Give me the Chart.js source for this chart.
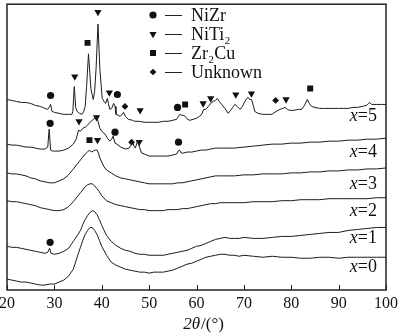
<!DOCTYPE html>
<html><head><meta charset="utf-8">
<script src="https://cdn.jsdelivr.net/npm/chart.js@4/dist/chart.umd.min.js"></script>
<style>html,body{margin:0;padding:0;background:#fff}canvas{display:block}</style>
</head><body>
<canvas id="c" width="400" height="335"></canvas>
<script>
// ---- data (2θ in degrees, intensity in arbitrary offset units) ----
const xTicks = [20, 30, 40, 50, 60, 70, 80, 90, 100];
const seriesNames = ['x=0', 'x=1', 'x=2', 'x=3', 'x=4', 'x=5'];

const theta0 = [20,21,22,23,24,25,26,27,28,29,30,31,32,33,34,35,35.5,36,36.5,37,37.5,38,38.5,39,39.5,40,41,42,43,44,45,46,47,48,49,50,51,52,53,54,55,56,57,58,59,60,61,62,63,64,65,66,67,68,69,70,72,74,76,78,80,82,84,86,88,90,92,94,96,98,100];
const int0   = [11,10,9,8,8,7,6,5,5,6,6,8,10,14,21,36,43,50,56,60,63,63,60,56,50,44,35,28,25,23,21,20,19,18,18,17,18,18,18,19,20,22,24,26,27,29,31,33,34,35,36,36,35,35,34,35,34,33,34,33,33,32,32,33,33,32,33,33,33,33,33];

const theta1 = [20,21,22,23,24,25,26,27,28,28.6,29,29.3,30,31,32,33,34,35,35.5,36,36.5,37,37.5,38,38.5,39,39.5,40,41,42,43,44,45,46,47,48,49,50,51,52,53,54,55,56,57,58,59,60,61,62,63,64,65,66,67,68,69,70,72,74,76,78,80,82,84,86,88,90,92,94,96,98,100];
const int1   = [44,43,43,42,41,40,39,38,37,38,42,37,36,37,39,42,49,56,60,66,71,75,78,80,79,76,71,65,55,49,45,42,40,39,37,36,36,35,35,35,35,36,37,38,39,40,42,44,45,47,49,51,52,53,52,52,52,53,52,52,53,54,54,55,56,57,58,58,60,61,62,63,63];

const theta2 = [20,21,22,23,24,25,26,27,28,29,30,31,32,33,34,35,35.5,36,36.5,37,37.5,38,38.5,39,39.5,40,41,42,43,44,45,46,47,48,49,50,51,52,53,54,55,56,57,58,59,60,61,62,63,64,65,66,67,68,70,72,74,76,78,80,82,84,86,88,90,92,94,96,98,100];
const int2   = [90,89,89,88,87,86,85,83,82,81,80,80,81,84,89,95,98,101,104,106,107,107,105,102,99,95,90,88,86,85,84,83,82,81,81,80,80,80,80,81,81,81,82,82,83,84,85,86,87,87,88,88,88,88,88,89,89,89,90,90,91,91,91,92,92,92,92,92,93,93];

const theta3 = [20,21,22,23,24,25,26,27,28,29,30,31,32,33,34,35,35.5,36,36.5,37,37.4,37.8,38.2,38.6,39,39.3,39.6,40,40.5,41,42,43,44,45,46,47,48,49,50,51,52,53,54,55,56,57,58,59,60,61,62,63,64,65,66,68,70,72,74,76,78,80,82,84,86,88,90,92,94,96,98,100];
const int3   = [118,117,117,116,115,113,112,110,109,108,108,110,112,116,122,128,131,134,137,139,141,139,140,141,141,138,133,129,124,121,118,115,113,112,111,110,109,108,107,107,107,107,107,107,108,108,109,110,111,112,113,114,115,115,115,115,116,116,117,117,117,118,118,119,119,120,120,121,121,122,122,123];

const theta4 = [20,21,22,23,24,25,26,27,28,28.6,28.9,29.2,29.6,30,31,32,33,34,34.6,35.1,35.5,36,36.5,37,37.5,38,38.5,38.9,39.2,39.6,40,40.7,41.2,41.7,42.1,42.4,42.8,43.2,44,45,45.8,46.2,46.5,46.8,47.1,47.6,47.9,48.4,49,50,51,52,53,54,55,55.8,56.1,56.4,56.8,57.2,58,59,60,61,62,63,64,65,66,68,70,72,74,76,78,80,82,84,86,88,90,92,94,96,98,100];
const int4   = [147,146,146,145,144,144,143,142,142,144,162,141,140,140,140,141,143,147,152,161,160,163,164,166,169,171,173,176,170,163,160,157,153,150,152,155,148,147,144,142,143,146,150,145,143,151,145,138,137,135,135,135,135,135,136,137,140,141,138,138,139,139,140,141,141,142,143,143,143,143,144,145,146,147,147,148,148,149,149,150,150,151,151,152,152,153];

const theta5 = [20,21,22,23,24,25,26,27,28,28.6,28.9,29.2,29.5,30,31,32,33,33.7,33.9,34.2,34.5,34.8,35.3,35.8,36.2,36.5,36.8,37.2,37.5,37.7,38.2,38.5,38.8,39.2,39.6,39.9,40.1,40.5,40.8,41.2,41.4,41.7,42.1,42.5,42.8,43,43.5,43.9,44.3,44.6,45,45.6,46.5,47,48,49,50,51,52,53,54,55,55.8,56.2,56.5,56.9,57.3,57.6,58.1,58.6,59.3,60,60.6,61.1,61.5,62,62.5,63,63.5,64,64.4,64.8,65.3,66,66.7,67.2,67.8,68.1,68.6,69.2,69.7,70.2,70.6,70.9,71.2,71.6,72,72.3,73,74,75,75.9,76.8,77.6,78.2,78.7,79.2,79.7,80.5,81.5,82.2,82.8,83.4,83.8,84.3,85,86,87,88,89,90,91,92,93,94,95,95.9,96.5,97,98,99,100];
const int5   = [192,191,190,189,189,188,186,185,183,182,184,187,180,179,178,177,177,177,180,205,184,180,178,177,180,185,205,238,218,203,192,200,223,268,223,205,193,190,188,193,188,182,183,188,185,177,176,175,177,179,175,172,171,170,170,169,169,169,169,170,170,171,172,175,177,176,176,175,172,171,172,173,175,177,182,182,185,188,190,191,193,190,187,183,178,181,185,187,185,182,185,190,193,194,192,192,186,180,178,177,177,177,180,182,183,184,182,181,181,182,182,186,192,188,185,184,183,183,183,183,183,183,183,184,184,185,186,189,187,187,187,187];

// phase markers [2θ, intensity]
const nizrTheta = [29.2, 43.3, 56.0, 29.1, 42.8, 56.2, 29.1];
const nizrInt   = [196, 197, 184, 168, 159, 149, 48];
const niti2Theta = [34.3, 39.2, 41.6, 48.1, 61.4, 63.0, 68.3, 71.6, 78.9, 35.2, 38.9, 47.9, 39.1];
const niti2Int   = [215, 280, 199, 181, 188, 193, 197, 198, 192, 170, 174, 149, 151];
const zr2cuTheta = [37.0, 57.6, 84.0, 37.4];
const zr2cuInt   = [249, 187, 203, 151];
const unkTheta = [44.9, 76.7, 46.3];
const unkInt   = [185, 191, 149];

const legendNames = ['NiZr', 'NiTi\u2082', 'Zr\u2082Cu', 'Unknown'];
const labelTheta = 98.1;
const labelInt = [23, 52, 79, 107, 139, 175];

// ---- build datasets ----
const zip = (a, b) => a.map((v, i) => ({x: v, y: b[i]}));
const thetas = [theta0, theta1, theta2, theta3, theta4, theta5];
const ints = [int0, int1, int2, int3, int4, int5];
const INK = '#1c1c1c';
const datasets = thetas.map((t, i) => ({
  type: 'line', label: seriesNames[i], data: zip(t, ints[i]),
  borderColor: INK, borderWidth: 1, pointRadius: 0, tension: 0, fill: false
}));
const mk = (label, t, v, style, r, rot) => ({
  type: 'scatter', label, data: zip(t, v), pointStyle: style, pointRadius: r,
  pointRotation: rot, backgroundColor: '#111', borderColor: '#111', borderWidth: 0
});
datasets.push(mk('NiZr', nizrTheta, nizrInt, 'circle', 3.6, 0));
datasets.push(mk('NiTi2', niti2Theta, niti2Int, 'triangle', 4.2, 180));
datasets.push(mk('Zr2Cu', zr2cuTheta, zr2cuInt, 'rect', 4.2, 0));
datasets.push(mk('Unknown', unkTheta, unkInt, 'rectRot', 3.4, 0));

const SERIF = '"Liberation Serif", "Times New Roman", serif';

function shape(ctx, style, x, y) {
  ctx.beginPath();
  if (style === 'circle') { ctx.arc(x, y, 3.6, 0, Math.PI * 2); }
  else if (style === 'tri') { ctx.moveTo(x - 3.6, y - 2.1); ctx.lineTo(x + 3.6, y - 2.1); ctx.lineTo(x, y + 4.2); ctx.closePath(); }
  else if (style === 'rect') { ctx.rect(x - 3, y - 3, 6, 6); }
  else { ctx.moveTo(x, y - 3.3); ctx.lineTo(x + 3.3, y); ctx.lineTo(x, y + 3.3); ctx.lineTo(x - 3.3, y); ctx.closePath(); }
  ctx.fill();
}

const deco = {
  id: 'deco',
  afterDraw(chart) {
    const {ctx, chartArea: a, scales: {x, y}} = chart;
    ctx.save();
    ctx.strokeStyle = '#222';
    ctx.lineWidth = 1;
    xTicks.forEach(v => {
      const px = Math.round(x.getPixelForValue(v)) + 0.5;
      ctx.beginPath(); ctx.moveTo(px, a.bottom); ctx.lineTo(px, a.bottom - 5); ctx.stroke();
    });
    ctx.lineWidth = 1.5;
    ctx.strokeRect(a.left, a.top, a.right - a.left, a.bottom - a.top);

    // series labels  "x=N"
    ctx.fillStyle = '#111';
    ctx.textBaseline = 'middle';
    seriesNames.forEach((s, i) => {
      const right = x.getPixelForValue(labelTheta);
      const py = y.getPixelForValue(labelInt[i]);
      const rest = s.slice(1);
      ctx.font = '18px ' + SERIF;
      const wr = ctx.measureText(rest).width;
      ctx.font = 'italic 18px ' + SERIF;
      const wx = ctx.measureText('x').width;
      ctx.textAlign = 'left';
      ctx.fillText('x', right - wr - wx, py);
      ctx.font = '18px ' + SERIF;
      ctx.fillText(rest, right - wr, py);
    });

    // legend
    const styles = ['circle', 'tri', 'rect', 'dia'];
    legendNames.forEach((n, i) => {
      const ly = 15 + i * 19;
      shape(ctx, styles[i], 153, ly);
      ctx.lineWidth = 1;
      ctx.beginPath(); ctx.moveTo(165, ly + 0.5); ctx.lineTo(182, ly + 0.5); ctx.stroke();
      ctx.font = '18px ' + SERIF;
      ctx.textAlign = 'left';
      ctx.fillText(n, 191, ly + 1);
    });

    // axis title 2θ/(°)
    ctx.font = 'italic 17px ' + SERIF;
    const t1 = '2\u03b8';
    const w1 = ctx.measureText(t1).width;
    ctx.font = '17px ' + SERIF;
    const t2 = '/(\u00b0)';
    const w2 = ctx.measureText(t2).width;
    const x0 = 203 - (w1 + w2) / 2;
    ctx.font = 'italic 17px ' + SERIF;
    ctx.fillText(t1, x0, 325);
    ctx.font = '17px ' + SERIF;
    ctx.fillText(t2, x0 + w1 + 1, 325);
    ctx.restore();
  }
};

new Chart(document.getElementById('c'), {
  data: {datasets},
  options: {
    responsive: false, animation: false, devicePixelRatio: 1,
    layout: {padding: {left: 7, right: 14, top: 2, bottom: 0}},
    plugins: {legend: {display: false}, tooltip: {enabled: false}},
    scales: {
      x: {
        type: 'linear', min: 20, max: 100,
        grid: {display: false, drawTicks: false},
        border: {display: false},
        afterBuildTicks: s => { s.ticks = xTicks.map(v => ({value: v})); },
        afterFit: s => { s.paddingLeft = 0; s.paddingRight = 0; s.height = 45; },
        ticks: {color: '#111', padding: 4, maxRotation: 0, autoSkip: false,
                font: {family: SERIF, size: 16}}
      },
      y: {type: 'linear', min: 0, max: 288, display: false}
    }
  },
  plugins: [deco]
});
</script>
</body></html>
